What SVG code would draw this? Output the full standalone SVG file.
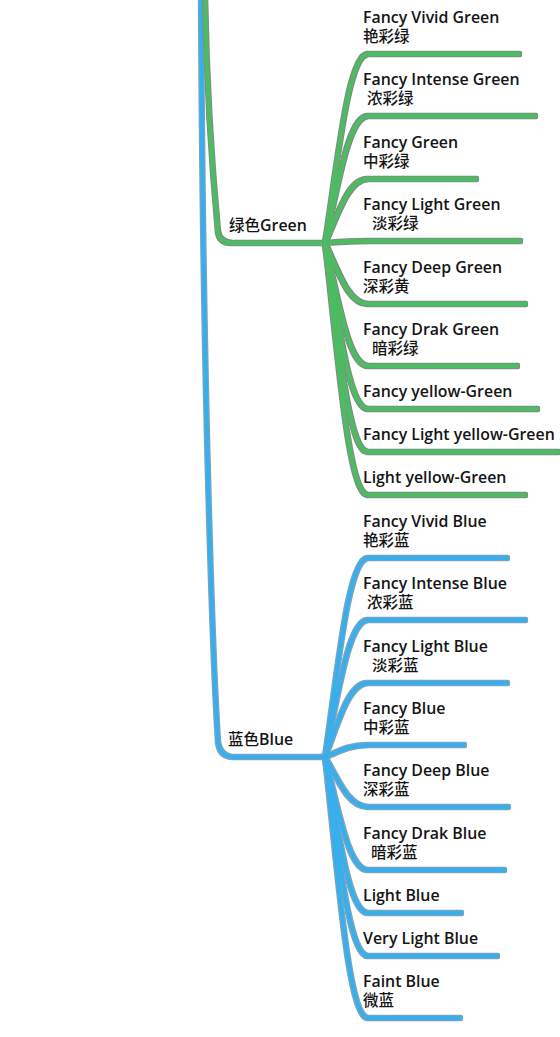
<svg xmlns="http://www.w3.org/2000/svg" width="560" height="1037" viewBox="0 0 560 1037">
<defs>
<style>
.t{font-family:"Open Sans","Liberation Sans","Noto Sans CJK SC",sans-serif;font-size:15.9px;font-weight:600;fill:#151515}
.c{font-family:"Noto Sans CJK SC",sans-serif;font-size:15.5px;font-weight:500;fill:#151515}
.g{fill:none;stroke:#4dbb63;stroke-width:4.4;stroke-linecap:round;stroke-linejoin:round}
.b{fill:none;stroke:#39aeea;stroke-width:4.4;stroke-linecap:round;stroke-linejoin:round}
</style>
<filter id="edgeG" filterUnits="userSpaceOnUse" x="0" y="0" width="560" height="1037">
<feMorphology in="SourceAlpha" operator="dilate" radius="0.7" result="d"/>
<feFlood flood-color="#7a8e7e"/>
<feComposite in2="d" operator="in" result="o"/>
<feMerge><feMergeNode in="o"/><feMergeNode in="SourceGraphic"/></feMerge>
</filter>
<filter id="edgeB" filterUnits="userSpaceOnUse" x="0" y="0" width="560" height="1037">
<feMorphology in="SourceAlpha" operator="dilate" radius="0.7" result="d"/>
<feFlood flood-color="#7fa3b8"/>
<feComposite in2="d" operator="in" result="o"/>
<feMerge><feMergeNode in="o"/><feMergeNode in="SourceGraphic"/></feMerge>
</filter>
</defs>
<rect width="560" height="1037" fill="#ffffff"/>
<g id="connectors">
<g filter="url(#edgeB)">
<path class="b" d="M201 -5 C203 420 214 680 218 742 Q220 757 234 757 H325"/>
<path class="b" d="M325 757 C338 669 348 558 368 558 H507"/>
<path class="b" d="M325 757 C338 697 348 620 368 620 H525"/>
<path class="b" d="M325 757 C338 724 348 683 368 683 H507"/>
<path class="b" d="M325 757 C338 752 348 745 368 745 H464"/>
<path class="b" d="M325 757 C338 779 348 807 368 807 H508"/>
<path class="b" d="M325 757 C338 807 348 870 368 870 H504"/>
<path class="b" d="M325 757 C338 826 348 913 368 913 H461"/>
<path class="b" d="M325 757 C338 845 348 956 368 956 H497"/>
<path class="b" d="M325 757 C338 872 348 1018 368 1018 H460"/>
</g>
<g filter="url(#edgeG)">
<path class="g" d="M205 -5 C207 110 215 200 218 232 Q220 243 232 243 H325"/>
<path class="g" d="M325 243 C338 160 348 54 368 54 H519"/>
<path class="g" d="M325 243 C338 187 348 116 368 116 H535"/>
<path class="g" d="M325 243 C338 215 348 179 368 179 H476"/>
<path class="g" d="M325 243 C338 242 348 241 368 241 H520"/>
<path class="g" d="M325 243 C338 270 348 304 368 304 H525"/>
<path class="g" d="M325 243 C338 297 348 366 368 366 H517"/>
<path class="g" d="M325 243 C338 316 348 409 368 409 H537"/>
<path class="g" d="M325 243 C338 335 348 452 368 452 H558"/>
<path class="g" d="M325 243 C338 354 348 495 368 495 H525"/>
</g>
</g>
<g id="hub-green"><text class="c" x="229" y="231">绿色<tspan class="t">Green</tspan></text></g>
<g id="hub-blue"><text class="c" x="228" y="745">蓝色<tspan class="t">Blue</tspan></text></g>
<g id="g1"><text class="t" x="363" y="22.5">Fancy Vivid Green</text><text class="c" x="363" y="41.5">艳彩绿</text></g>
<g id="g2"><text class="t" x="363" y="84.5">Fancy Intense Green</text><text class="c" x="367" y="103.5">浓彩绿</text></g>
<g id="g3"><text class="t" x="363" y="147.5">Fancy Green</text><text class="c" x="363" y="166.5">中彩绿</text></g>
<g id="g4"><text class="t" x="363" y="209.5">Fancy Light Green</text><text class="c" x="372" y="228.5">淡彩绿</text></g>
<g id="g5"><text class="t" x="363" y="272.5">Fancy Deep Green</text><text class="c" x="363" y="291.5">深彩黄</text></g>
<g id="g6"><text class="t" x="363" y="334.5">Fancy Drak Green</text><text class="c" x="372" y="353.5">暗彩绿</text></g>
<g id="g7"><text class="t" x="363" y="396.5">Fancy yellow-Green</text></g>
<g id="g8"><text class="t" x="363" y="439.5">Fancy Light yellow-Green</text></g>
<g id="g9"><text class="t" x="363" y="482.5">Light yellow-Green</text></g>
<g id="b1"><text class="t" x="363" y="526.5">Fancy Vivid Blue</text><text class="c" x="363" y="545.5">艳彩蓝</text></g>
<g id="b2"><text class="t" x="363" y="588.5">Fancy Intense Blue</text><text class="c" x="367" y="607.5">浓彩蓝</text></g>
<g id="b3"><text class="t" x="363" y="651.5">Fancy Light Blue</text><text class="c" x="372" y="670.5">淡彩蓝</text></g>
<g id="b4"><text class="t" x="363" y="713.5">Fancy Blue</text><text class="c" x="363" y="732.5">中彩蓝</text></g>
<g id="b5"><text class="t" x="363" y="775.5">Fancy Deep Blue</text><text class="c" x="363" y="794.5">深彩蓝</text></g>
<g id="b6"><text class="t" x="363" y="838.5">Fancy Drak Blue</text><text class="c" x="371" y="857.5">暗彩蓝</text></g>
<g id="b7"><text class="t" x="363" y="900.5">Light Blue</text></g>
<g id="b8"><text class="t" x="363" y="943.5">Very Light Blue</text></g>
<g id="b9"><text class="t" x="363" y="986.5">Faint Blue</text><text class="c" x="363" y="1006">微蓝</text></g>
</svg>
